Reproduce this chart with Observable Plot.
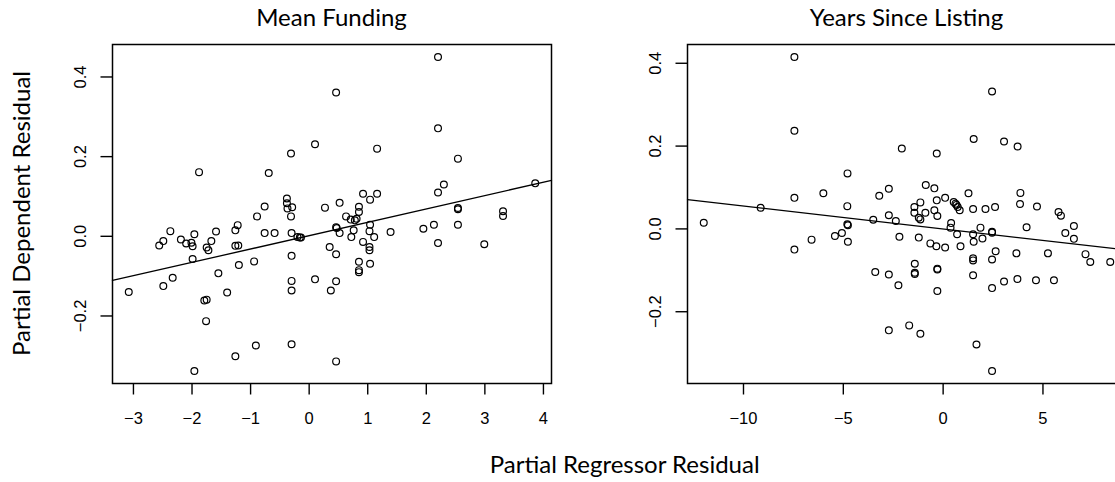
<!DOCTYPE html>
<html><head><meta charset="utf-8">
<script src="https://cdn.jsdelivr.net/npm/d3@7"></script>
<script src="https://cdn.jsdelivr.net/npm/@observablehq/plot@0.6"></script>
<style>
html,body{margin:0;padding:0;background:#fff;}
#wrap{position:relative;width:1115px;height:482px;overflow:hidden;background:#fff;}
#wrap > svg, #wrap > figure{position:absolute;top:0;margin:0;}
</style></head><body><div id="wrap"></div>
<script>
// Panel 1: Mean Funding (partial regressor residual, partial dependent residual)
const fundX = [-3.08,-2.56,-2.49,-2.49,-2.37,-2.33,-2.19,-2.10,-2.01,-1.99,-1.99,-1.96,-1.96,-1.88,-1.79,-1.75,-1.76,-1.75,-1.72,-1.67,-1.59,-1.55,-1.40,-1.26,-1.22,-1.26,-1.21,-1.20,-1.26,-0.94,-0.91,-0.89,-0.76,-0.76,-0.69,-0.59,-0.38,-0.38,-0.37,-0.29,-0.31,-0.30,-0.31,-0.30,-0.30,-0.30,-0.30,-0.20,-0.16,-0.14,0.10,0.10,0.27,0.35,0.37,0.46,0.46,0.47,0.46,0.46,0.46,0.52,0.52,0.63,0.71,0.78,0.81,0.76,0.72,0.85,0.85,0.85,0.85,0.85,0.92,0.92,1.04,1.04,1.03,1.11,1.03,1.03,1.04,1.16,1.16,1.39,1.95,2.13,2.20,2.20,2.20,2.30,2.20,2.54,2.54,2.54,2.54,2.99,3.31,3.31,3.86];
const fundY = [-0.140,-0.023,-0.012,-0.125,0.013,-0.104,-0.008,-0.018,-0.016,-0.025,-0.057,0.005,-0.338,0.161,-0.161,-0.159,-0.213,-0.028,-0.035,-0.012,0.012,-0.093,-0.141,0.015,0.028,-0.024,-0.023,-0.072,-0.301,-0.063,-0.274,0.050,0.075,0.008,0.159,0.008,0.095,0.083,0.070,0.073,0.050,0.008,0.208,-0.049,-0.112,-0.136,-0.271,-0.002,-0.003,-0.003,0.231,-0.108,0.072,-0.027,-0.136,0.361,0.023,0.021,-0.045,-0.113,-0.314,0.084,0.008,0.050,0.042,0.040,0.044,0.015,-0.002,0.074,0.061,-0.064,-0.085,-0.090,0.107,-0.014,0.092,0.029,0.013,-0.002,-0.027,-0.035,-0.069,0.107,0.220,0.011,0.019,0.029,0.450,0.271,0.110,0.130,-0.017,0.195,0.071,0.068,0.029,-0.020,0.063,0.051,0.133];

// Panel 2: Years Since Listing
const yearsX = [-11.99,-9.14,-7.45,-7.45,-7.45,-7.45,-6.59,-6.00,-5.42,-5.07,-4.80,-4.80,-4.77,-4.79,-4.77,-3.50,-3.40,-3.20,-2.72,-2.72,-2.72,-2.37,-2.24,-2.19,-2.07,-2.72,-1.70,-1.44,-1.44,-1.42,-1.42,-1.42,-1.22,-1.14,-1.22,-1.14,-1.14,-0.87,-0.89,-0.64,-0.44,-0.44,-0.32,-0.32,-0.29,-0.34,-0.29,-0.29,-0.29,0.10,0.10,0.40,0.37,0.53,0.62,0.67,0.73,0.83,0.70,0.87,1.27,1.50,1.50,1.53,1.50,1.50,1.50,1.53,1.67,1.87,1.97,2.12,2.45,2.45,2.45,2.45,2.45,2.45,2.60,2.63,3.05,3.05,3.67,3.72,3.73,3.87,3.85,4.18,4.65,4.70,5.25,5.55,5.78,5.90,6.12,6.55,6.55,7.13,7.37,8.37];
const yearsY = [0.015,0.051,0.415,0.237,0.075,-0.050,-0.026,0.086,-0.017,-0.010,0.055,0.011,0.009,0.134,-0.031,0.022,-0.104,0.080,0.097,0.033,-0.110,0.019,-0.136,-0.019,0.194,-0.245,-0.233,0.053,0.039,-0.084,-0.106,-0.109,0.027,0.023,-0.021,0.064,-0.253,0.106,0.039,-0.035,0.098,0.045,0.182,0.069,0.031,-0.042,-0.096,-0.098,-0.150,0.075,-0.045,0.014,0.003,0.065,0.061,0.058,0.053,0.045,-0.013,-0.042,0.086,0.048,-0.013,-0.031,-0.071,-0.076,-0.112,0.217,-0.279,0.003,-0.023,0.048,0.332,-0.007,-0.009,-0.074,-0.143,-0.343,0.053,-0.054,0.211,-0.127,-0.059,-0.121,0.199,0.087,0.060,0.004,-0.124,0.054,-0.059,-0.124,0.041,0.032,-0.010,0.007,-0.024,-0.061,-0.080,-0.080];

const fundXTicks = [-3,-2,-1,0,1,2,3,4];
const fundYTicks = [-0.2,0,0.2,0.4];
const yearsXTicks = [-10,-5,0,5];
const yearsYTicks = [-0.2,0,0.2,0.4];
const titles = ["Mean Funding","Years Since Listing"];
const yLabel = "Partial Dependent Residual";
const xLabel = "Partial Regressor Residual";

const tickFont = "'Liberation Sans', Arial, Helvetica, sans-serif";
const labelFont = "Lato, 'Open Sans', sans-serif";

function rRange(arr) {
  const [a, b] = d3.extent(arr);
  const r = (b - a) * 0.04;
  return [a - r, b + r];
}

function panel(xs, ys, xt, yt) {
  const data = xs.map((x, i) => ({x, y: ys[i]}));
  const xd = rRange(xs), yd = rRange(ys);
  const mx = d3.mean(xs), my = d3.mean(ys);
  const b = d3.sum(xs, (x, i) => (x - mx) * (ys[i] - my)) / d3.sum(xs, x => (x - mx) ** 2);
  const a = my - b * mx;
  const fit = xd.map(x => ({x, y: a + b * x}));
  return Plot.plot({
    width: 625, height: 482,
    marginLeft: 112, marginRight: 74, marginTop: 44, marginBottom: 99,
    x: {domain: xd},
    y: {domain: yd},
    style: {background: "transparent", maxWidth: "none", overflow: "visible", fontFamily: tickFont, fontSize: "16.5px", color: "#000"},
    marks: [
      Plot.axisX({ticks: xt, tickSize: 11.5, tickPadding: 17.5, label: null, fontSize: 16.5, strokeWidth: 1.4, tickFormat: d3.format("d")}),
      Plot.axisY({ticks: yt, tickSize: 11.5, label: null, strokeWidth: 1.4, tickFormat: () => ""}),
      Plot.text(yt, {y: d => d, frameAnchor: "left", text: d => d3.format(".1f")(d), rotate: -90, dx: -31.5, textAnchor: "middle", lineAnchor: "middle", fontSize: 16.5, fill: "#000"}),
      Plot.line(fit, {x: "x", y: "y", stroke: "#000", strokeWidth: 1.3}),
      Plot.dot(data, {x: "x", y: "y", r: 3.4, stroke: "#000", strokeWidth: 1.2, fill: "none"}),
      Plot.frame({stroke: "#000", strokeWidth: 1.5})
    ]
  });
}

const wrap = document.getElementById("wrap");
const p1 = panel(fundX, fundY, fundXTicks, fundYTicks);
p1.style.left = "0px";
wrap.appendChild(p1);
const p2 = panel(yearsX, yearsY, yearsXTicks, yearsYTicks);
p2.style.left = "575px";
wrap.appendChild(p2);

// shared titles and outer labels
const ov = d3.select(wrap).append("svg")
  .attr("width", 1115).attr("height", 482)
  .style("left", "0px").style("pointer-events", "none")
  .style("font-family", labelFont).style("font-size", "24px");
ov.append("text").attr("x", 331.5).attr("y", 26).attr("text-anchor", "middle").text(titles[0]);
ov.append("text").attr("x", 906.5).attr("y", 26).attr("text-anchor", "middle").text(titles[1]);
ov.append("text").attr("transform", "translate(30,213.5) rotate(-90)").attr("text-anchor", "middle").text(yLabel);
ov.append("text").attr("x", 624.7).attr("y", 473).attr("text-anchor", "middle").text(xLabel);
</script>
</body></html>
